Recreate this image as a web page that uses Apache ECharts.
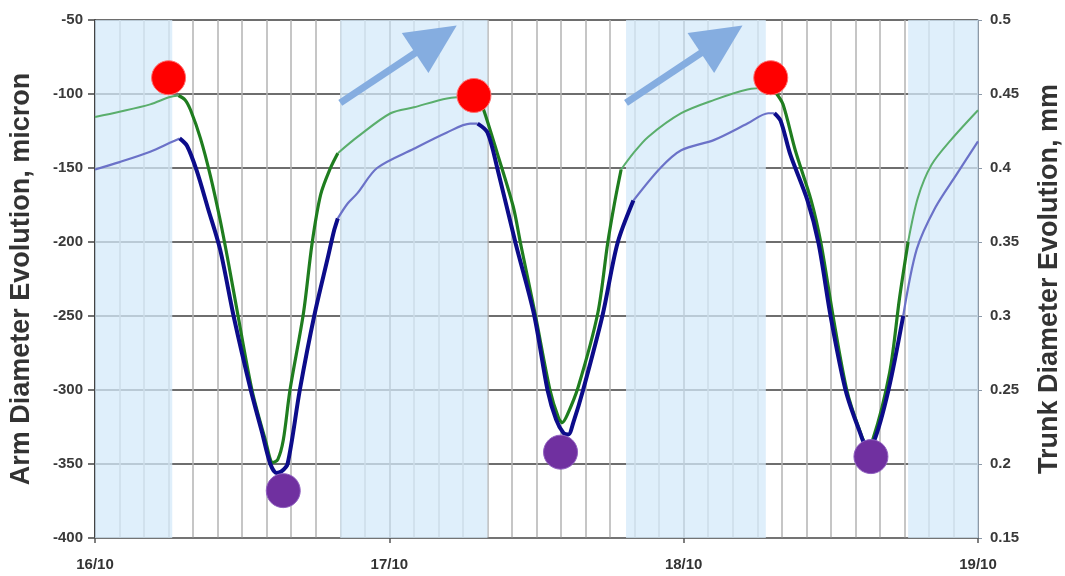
<!DOCTYPE html>
<html><head><meta charset="utf-8">
<script src="https://cdn.jsdelivr.net/npm/echarts@6/dist/echarts.min.js"></script>
<style>html,body{margin:0;padding:0;background:#fff}#c{width:1065px;height:576px}</style>
</head><body><div id="c"></div>
<script>
// ---- data (hours since 16/10 00:00) ----
const xTickLabels = ['16/10', '17/10', '18/10', '19/10'];

const armHours  = [0, 2.0, 4.5, 6.1, 6.9, 7.5, 8.3, 9.2, 10.2, 11.3, 12.7, 13.6, 14.3, 14.8, 15.2, 15.7, 16.7, 17.9, 19.0, 19.5, 19.8, 20.6, 21.4, 23.0, 26.0, 28.7, 30.6, 31.2, 32.0, 32.8, 34.3, 35.8, 36.9, 37.6, 38.2, 38.6, 39.0, 39.8, 41.4, 42.6, 43.9, 46.1, 47.8, 50.5, 53.2, 54.9, 55.4, 55.9, 56.7, 58.1, 59.0, 60.0, 61.2, 62.3, 62.9, 63.5, 64.7, 65.9, 67.0, 68.5, 70.2, 72];
const armMicron = [-151, -146, -139, -133, -130, -135, -152, -177, -205, -250, -300, -328, -350, -356, -355, -350, -300, -249, -210, -192, -184, -174, -167, -150, -137, -126, -120, -120, -126, -150, -201, -249, -300, -320, -329, -330, -322, -300, -249, -201, -172, -150, -138, -131, -120, -113, -113, -118, -141, -172, -201, -251, -300, -327, -337, -335, -300, -250, -205, -177, -155, -132];

const trunkHours = [0, 2.0, 4.5, 6.1, 6.8, 7.35, 7.8, 8.6, 9.4, 10.2, 10.9, 11.6, 12.8, 13.9, 14.5, 14.9, 15.35, 15.9, 17.0, 17.7, 18.4, 19.2, 19.8, 21.4, 24.1, 26.0, 28.7, 30.6, 31.3, 31.7, 32.8, 34.1, 34.7, 35.9, 37.1, 37.8, 38.1, 38.5, 39.4, 41.0, 41.8, 42.4, 42.9, 43.9, 45.1, 47.8, 50.5, 53.2, 54.9, 55.5, 56.1, 57.1, 58.4, 59.2, 60.2, 61.3, 62.3, 62.9, 63.4, 64.8, 65.6, 66.3, 67.1, 68.2, 69.8, 72];
const trunkMm    = [0.4345, 0.438, 0.443, 0.448, 0.449, 0.446, 0.439, 0.420, 0.395, 0.365, 0.335, 0.303, 0.250, 0.216, 0.201, 0.203, 0.216, 0.250, 0.302, 0.349, 0.382, 0.400, 0.410, 0.421, 0.437, 0.441, 0.447, 0.448, 0.446, 0.439, 0.410, 0.374, 0.349, 0.301, 0.250, 0.231, 0.228, 0.233, 0.252, 0.302, 0.349, 0.378, 0.399, 0.410, 0.421, 0.437, 0.446, 0.453, 0.454, 0.451, 0.443, 0.412, 0.378, 0.349, 0.299, 0.250, 0.224, 0.214, 0.216, 0.262, 0.312, 0.350, 0.380, 0.402, 0.419, 0.439];

const peakHours    = [6.0, 30.9, 55.1];
const peakMicron   = [-89, -101, -89];
const troughHours  = [15.35, 37.96, 63.27];
const troughMicron = [-368, -342, -345];

const nightStart = [0, 20, 43.3, 66.3];
const nightEnd   = [6.3, 32, 54.7, 72];

const arrowFromHours  = [20.0, 43.3];
const arrowFromMicron = [-106, -106];
const arrowToHours    = [27.8, 51.1];
const arrowToMicron   = [-63, -63];

// contraction (daytime) phases, drawn darker
const shrinkStart = [6.9, 31.2, 55.4];
const shrinkEnd   = [20, 43.3, 66.3];

// ---- helpers ----
function inShrink(h) {
  for (let i = 0; i < shrinkStart.length; i++) if (h >= shrinkStart[i] && h <= shrinkEnd[i]) return true;
  return false;
}
function split(hours, vals) {
  const n = hours.length;
  const segDark = [];
  for (let i = 0; i < n - 1; i++) segDark.push(inShrink((hours[i] + hours[i + 1]) / 2));
  const dark = [], light = [];
  for (let i = 0; i < n; i++) {
    const prev = i > 0 ? segDark[i - 1] : null;
    const next = i < n - 1 ? segDark[i] : null;
    dark.push([hours[i], (prev === true || next === true) ? vals[i] : '-']);
    light.push([hours[i], (prev === false || next === false) ? vals[i] : '-']);
  }
  return { dark, light };
}
const arm = split(armHours, armMicron);
const trunk = split(trunkHours, trunkMm);

const nightAreas = nightStart.map((s, i) => [{ xAxis: s }, { xAxis: nightEnd[i] }]);
const arrows = arrowFromHours.map((h, i) => [
  { coord: [h, arrowFromMicron[i]] },
  { coord: [arrowToHours[i], arrowToMicron[i]] }
]);

const FONT = 'Liberation Sans';
const chart = echarts.init(document.getElementById('c'), null, { renderer: 'canvas' });
chart.setOption({
  animation: false,
  backgroundColor: '#fff',
  grid: { left: 95, right: 87, top: 20, bottom: 38, containLabel: false, outerBoundsMode: 'none' },
  xAxis: {
    type: 'value', min: 0, max: 72, interval: 24,
    axisLine: { show: true, onZero: false, lineStyle: { color: '#777', width: 1.5 } },
    axisTick: { show: true, length: 5, lineStyle: { color: '#555', width: 1.5 } },
    axisLabel: { formatter: v => xTickLabels[Math.round(v / 24)], fontSize: 15, fontWeight: 'bold', color: '#333', margin: 19, fontFamily: FONT },
    splitLine: { show: true, lineStyle: { color: '#7d7d7d', width: 1.5 } },
    minorTick: { show: false, splitNumber: 12 },
    minorSplitLine: { show: true, lineStyle: { color: '#b4b4b4', width: 1.5 } }
  },
  yAxis: [
    {
      type: 'value', min: -400, max: -50, interval: 50, position: 'left',
      name: 'Arm Diameter Evolution, micron', nameLocation: 'middle', nameRotate: 90, nameGap: 60,
      nameTextStyle: { fontSize: 27, fontWeight: 'bold', color: '#333', fontFamily: FONT },
      axisLine: { show: true, lineStyle: { color: '#444', width: 2 } },
      axisTick: { show: true, length: 7, lineStyle: { color: '#444', width: 1.5 } },
      axisLabel: { fontSize: 15, fontWeight: 'bold', color: '#3a3a3a', margin: 12, fontFamily: FONT },
      splitLine: { show: true, lineStyle: { color: '#6e6e6e', width: 2 } }
    },
    {
      type: 'value', min: 0.15, max: 0.5, interval: 0.05, position: 'right',
      name: 'Trunk Diameter Evolution, mm', nameLocation: 'middle', nameRotate: 90, nameGap: 58,
      nameTextStyle: { fontSize: 27, fontWeight: 'bold', color: '#333', fontFamily: FONT },
      axisLine: { show: true, lineStyle: { color: '#8a98a8', width: 1.5 } },
      axisTick: { show: true, length: 4, lineStyle: { color: '#8a98a8' } },
      axisLabel: { formatter: v => String(+v.toFixed(2)), fontSize: 15, fontWeight: 'bold', color: '#3a3a3a', margin: 12, fontFamily: FONT },
      splitLine: { show: false }
    }
  ],
  series: [
    { type: 'line', yAxisIndex: 1, data: trunk.light, showSymbol: false, smooth: 0.3, connectNulls: false,
      lineStyle: { color: '#5aae6c', width: 2 }, z: 2, silent: true },
    { type: 'line', yAxisIndex: 1, data: trunk.dark, showSymbol: false, smooth: 0.3, connectNulls: false,
      lineStyle: { color: '#1f7d1f', width: 3.2 }, z: 3, silent: true },
    {
      type: 'line', yAxisIndex: 0, data: arm.light, showSymbol: false, smooth: 0.3, connectNulls: false,
      lineStyle: { color: '#6b72c8', width: 2.2 }, z: 3, silent: true,
      markArea: { silent: true, itemStyle: { color: 'rgba(212,234,249,0.75)' }, data: nightAreas },
      markLine: {
        silent: true, symbol: ['none', 'triangle'], symbolSize: [48, 50],
        label: { show: false }, lineStyle: { color: '#85ade0', width: 7, type: 'solid', opacity: 1 },
        itemStyle: { color: '#85ade0' }, emphasis: { disabled: true }, data: arrows
      }
    },
    { type: 'line', yAxisIndex: 0, data: arm.dark, showSymbol: false, smooth: 0.3, connectNulls: false,
      lineStyle: { color: '#0c0c8a', width: 4 }, z: 4, silent: true },
    { type: 'scatter', yAxisIndex: 0, data: peakHours.map((h, i) => [h, peakMicron[i]]), symbolSize: 34,
      itemStyle: { color: '#ff0000', borderColor: '#ff7070', borderWidth: 1, opacity: 1 }, z: 6, silent: true },
    { type: 'scatter', yAxisIndex: 0, data: troughHours.map((h, i) => [h, troughMicron[i]]), symbolSize: 34,
      itemStyle: { color: '#7030a0', borderColor: '#9060c0', borderWidth: 1, opacity: 1 }, z: 6, silent: true }
  ]
});
</script></body></html>
